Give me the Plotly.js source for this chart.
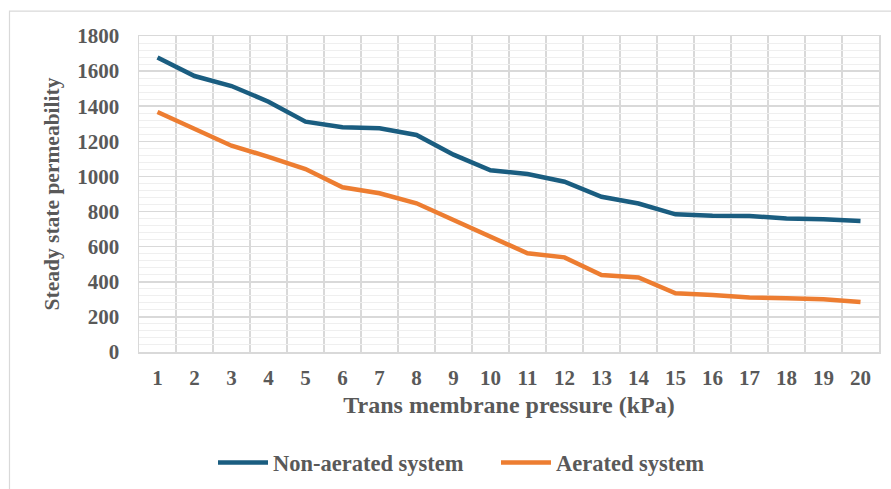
<!DOCTYPE html>
<html>
<head>
<meta charset="utf-8">
<script src="https://cdn.plot.ly/plotly-3.0.1.min.js"></script>
<style>html,body{margin:0;padding:0;background:#fff;}#chart{width:891px;height:489px;}</style>
</head>
<body>
<div id="chart"></div>
<script>
const pressure = [1,2,3,4,5,6,7,8,9,10,11,12,13,14,15,16,17,18,19,20];
const nonAerated = [1677,1572,1515,1426,1312,1280,1274,1236,1124,1035,1014,970,884,846,784,776,775,761,756,746];
const aerated = [1367,1274,1175,1112,1042,938,904,847,750,655,562,539,439,425,334,325,311,306,300,285];
const yTicks = [0,200,400,600,800,1000,1200,1400,1600,1800];

const fontFam = '"Liberation Serif", "Times New Roman", serif';
const grey = '#595959';

const traces = [
  {x: pressure, y: nonAerated, name: 'Non-aerated system', type: 'scatter', mode: 'lines',
   line: {color: '#1A5D80', width: 4.5}},
  {x: pressure, y: aerated, name: 'Aerated system', type: 'scatter', mode: 'lines',
   line: {color: '#ED7D31', width: 4.5}}
];

const layout = {
  width: 891, height: 489,
  margin: {l: 139, r: 12, t: 36, b: 137, autoexpand: false},
  paper_bgcolor: '#ffffff', plot_bgcolor: '#ffffff',
  font: {family: fontFam, color: grey, size: 20, weight: 'bold'},
  showlegend: true,
  legend: {orientation: 'h', x: (213 - 139) / 740, y: -0.351, xanchor: 'left', yanchor: 'middle',
           font: {family: fontFam, size: 22.5, color: grey, weight: 'bold'}, itemwidth: 50,
           entrywidth: 218, entrywidthmode: 'pixels'},
  xaxis: {
    automargin: false,
    range: [0.5, 20.5], tickmode: 'array', tickvals: pressure, ticktext: pressure.map(String),
    showgrid: false, zeroline: false, showline: true, linecolor: '#d9d9d9', linewidth: 1.5, mirror: true,
    ticks: 'outside', ticklen: 6, tickcolor: 'rgba(0,0,0,0)',
    tickfont: {family: fontFam, size: 21, color: grey, weight: 'bold'},
    minor: {tick0: 0.5, dtick: 1, showgrid: true, gridcolor: '#d9d9d9', gridwidth: 1.5, ticks: ''},
    title: {text: 'Trans membrane pressure (kPa)', standoff: 7,
            font: {family: fontFam, size: 24, color: grey, weight: 'bold'}}
  },
  yaxis: {
    automargin: false,
    range: [0, 1800], tickmode: 'array', tickvals: yTicks, ticktext: yTicks.map(String),
    showgrid: true, gridcolor: '#d9d9d9', gridwidth: 1.5, zeroline: false,
    showline: true, linecolor: '#d9d9d9', linewidth: 1.5, mirror: true,
    ticks: 'outside', ticklen: 14, tickcolor: 'rgba(0,0,0,0)',
    tickfont: {family: fontFam, size: 21, color: grey, weight: 'bold'},
    minor: {tick0: 0, dtick: 40, showgrid: true, gridcolor: '#efefef', gridwidth: 1, ticks: ''},
    title: {text: 'Steady state permeability', standoff: 12,
            font: {family: fontFam, size: 21.5, color: grey, weight: 'bold'}}
  },
  shapes: [
    {type: 'rect', xref: 'paper', yref: 'paper', x0: -0.175, x1: 1.03, y0: -0.5, y1: 1.079,
     line: {color: '#d9d9d9', width: 1.2}, fillcolor: 'rgba(0,0,0,0)', layer: 'below'}
  ]
};

Plotly.newPlot('chart', traces, layout, {displayModeBar: false, staticPlot: true});
</script>
</body>
</html>
